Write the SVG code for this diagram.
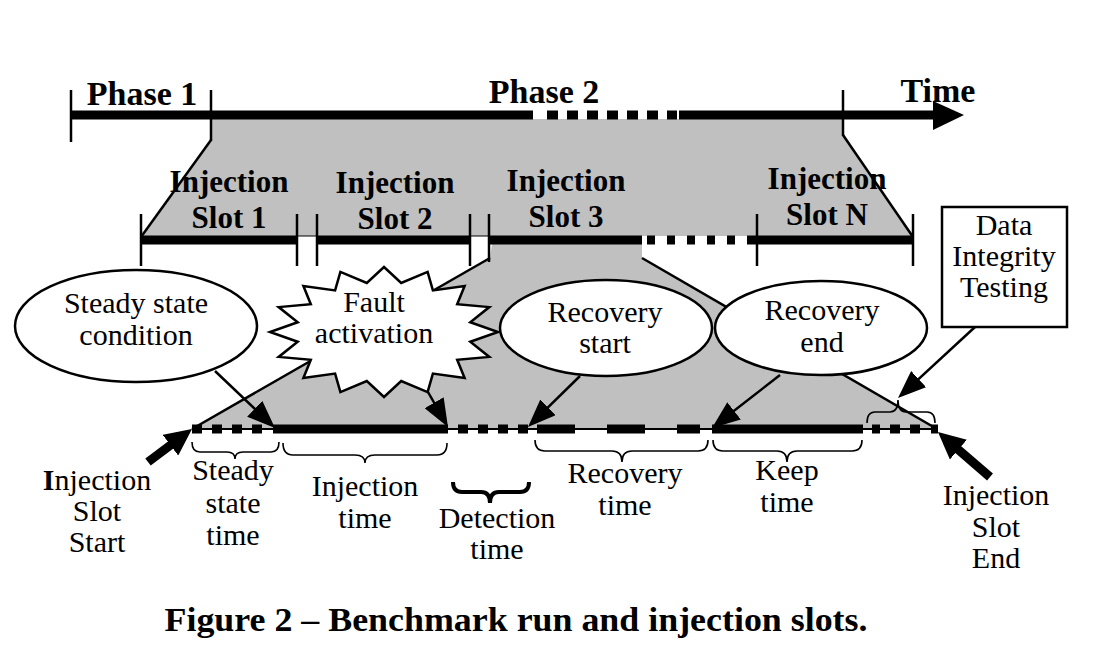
<svg xmlns="http://www.w3.org/2000/svg" width="1106" height="662" viewBox="0 0 1106 662">
<style>
.t{font-family:"Liberation Serif","Times New Roman",serif;font-size:30px;fill:#000;text-anchor:middle}
.b{font-weight:bold}
.ph{font-size:34px}
.ln{stroke:#000;stroke-width:2.5;fill:none}
.tk{stroke:#000;stroke-width:2.5}
.br{stroke:#000;stroke-width:1.6;fill:none}
.gray{fill:#c0c0c0}
.shape{fill:#fff;stroke:#000;stroke-width:2.5}
.bar{fill:#000}
</style>
<defs>
<marker id="ah" markerUnits="userSpaceOnUse" markerWidth="28" markerHeight="22" refX="20" refY="11" orient="auto">
<path d="M0,0 L28,11 L0,22 z" fill="#000"/>
</marker>
<marker id="ahb" markerUnits="userSpaceOnUse" markerWidth="27" markerHeight="26" refX="12" refY="13" orient="auto">
<path d="M0,0 L27,13 L0,26 z" fill="#000"/>
</marker>
</defs>
<rect width="1106" height="662" fill="#fff"/>

<g id="background">
<polygon class="gray" points="211,119 843,119 843,135 913,236 141,236 211,140"/>
<polygon class="gray" points="492,244 642,244 642,258 937,429 192,429 490,258"/>
<line class="ln" x1="211" y1="140" x2="141" y2="237"/>
<line class="ln" x1="843" y1="135" x2="913" y2="237"/>
<line class="ln" x1="490" y1="258" x2="192" y2="429"/>
<line class="ln" x1="642" y1="258" x2="937" y2="429"/>
</g>

<g id="phase-timeline">
<rect class="bar" x="71" y="110.5" width="462" height="9"/>
<rect class="bar" x="547" y="110.5" width="11" height="9"/>
<rect class="bar" x="567" y="110.5" width="11" height="9"/>
<rect class="bar" x="587" y="110.5" width="11" height="9"/>
<rect class="bar" x="607" y="110.5" width="11" height="9"/>
<rect class="bar" x="627" y="110.5" width="11" height="9"/>
<rect class="bar" x="647" y="110.5" width="11" height="9"/>
<rect class="bar" x="667" y="110.5" width="10" height="9"/>
<rect class="bar" x="679" y="110.5" width="256" height="9"/>
<polygon class="bar" points="933,101 964,115 933,130"/>
<line class="tk" x1="71" y1="90" x2="71" y2="142"/>
<line class="tk" x1="211" y1="90" x2="211" y2="141"/>
<line class="tk" x1="843" y1="90" x2="843" y2="136"/>
<text class="t b ph" x="142" y="105">Phase 1</text>
<text class="t b ph" x="544" y="103">Phase 2</text>
<text class="t b ph" x="938" y="102">Time</text>
</g>

<g id="slot-timeline">
<rect class="bar" x="141" y="235.5" width="156" height="9"/>
<rect class="bar" x="317" y="235.5" width="153" height="9"/>
<rect class="bar" x="489" y="235.5" width="153" height="9"/>
<rect class="bar" x="647" y="235.5" width="8" height="9"/>
<rect class="bar" x="667" y="235.5" width="8" height="9"/>
<rect class="bar" x="687" y="235.5" width="8" height="9"/>
<rect class="bar" x="707" y="235.5" width="8" height="9"/>
<rect class="bar" x="727" y="235.5" width="8" height="9"/>
<rect class="bar" x="747" y="235.5" width="166" height="9"/>
<line x1="297" y1="236" x2="317" y2="236" stroke="#000" stroke-width="1"/>
<line x1="470" y1="236" x2="489" y2="236" stroke="#000" stroke-width="1"/>
<line class="tk" x1="141" y1="214" x2="141" y2="266"/>
<line class="tk" x1="297" y1="214" x2="297" y2="266"/>
<line class="tk" x1="317" y1="214" x2="317" y2="266"/>
<line class="tk" x1="470" y1="214" x2="470" y2="266"/>
<line class="tk" x1="489" y1="214" x2="489" y2="262"/>
<line class="tk" x1="757" y1="214" x2="757" y2="266"/>
<line class="tk" x1="913" y1="214" x2="913" y2="266"/>
</g>

<g id="slot1"><text class="t b" x="229" y="192" style="font-size:31px">Injection</text><text class="t b" x="229" y="228" style="font-size:31px">Slot 1</text></g>
<g id="slot2"><text class="t b" x="395" y="193" style="font-size:31px">Injection</text><text class="t b" x="395" y="229" style="font-size:31px">Slot 2</text></g>
<g id="slot3"><text class="t b" x="566" y="191" style="font-size:31px">Injection</text><text class="t b" x="566" y="227" style="font-size:31px">Slot 3</text></g>
<g id="slotN"><text class="t b" x="827" y="189" style="font-size:31px">Injection</text><text class="t b" x="827" y="225" style="font-size:31px">Slot N</text></g>

<g id="bottom-timeline">
<rect x="192" y="428" width="746" height="2" fill="#000"/>
<rect class="bar" x="192" y="424.5" width="10" height="9"/>
<rect class="bar" x="212" y="424.5" width="10" height="9"/>
<rect class="bar" x="232" y="424.5" width="10" height="9"/>
<rect class="bar" x="252" y="424.5" width="10" height="9"/>
<rect class="bar" x="273" y="424.5" width="175" height="9"/>
<rect class="bar" x="458" y="424.5" width="10" height="9"/>
<rect class="bar" x="478" y="424.5" width="10" height="9"/>
<rect class="bar" x="498" y="424.5" width="10" height="9"/>
<rect class="bar" x="518" y="424.5" width="10" height="9"/>
<rect class="bar" x="537" y="424.5" width="38" height="9"/>
<rect class="bar" x="607" y="424.5" width="38" height="9"/>
<rect class="bar" x="677" y="424.5" width="23" height="9"/>
<rect class="bar" x="712" y="424.5" width="151" height="9"/>
<rect class="bar" x="872" y="424.5" width="8" height="9"/>
<rect class="bar" x="890" y="424.5" width="10" height="9"/>
<rect class="bar" x="910" y="424.5" width="10" height="9"/>
<rect class="bar" x="931" y="424.5" width="7" height="9"/>
</g>

<g id="braces">
<path class="br" d="M192,442 Q192,452 200,452 L227,452 Q235,452 235,459 Q235,452 243,452 L271,452 Q279,452 279,442"/>
<path class="br" d="M283,443 Q283,455 293,455 L355,455 Q365,455 365,463 Q365,455 375,455 L437,455 Q447,455 447,443"/>
<path class="br" d="M535,440 Q535,451 545,451 L612,451 Q622,451 622,462 Q622,451 632,451 L698,451 Q708,451 708,440"/>
<path class="br" d="M713,440 Q713,451 723,451 L777,451 Q787,451 787,462 Q787,451 797,451 L852,451 Q862,451 862,440"/>
<path d="M453,482 Q453,492 462,492 L481,492 Q490,492 490,503 Q490,492 499,492 L520,492 Q529,492 529,482" stroke="#000" stroke-width="4" fill="none"/>
<path class="br" d="M867,423 Q867,412 875,412 L890,412 Q898,412 898,400 Q898,412 906,412 L927,412 Q935,412 935,423"/>
</g>

<g id="connectors">
<line class="ln" x1="215" y1="371" x2="269.2" y2="422.5" marker-end="url(#ah)"/>
<line class="ln" x1="428" y1="392" x2="444" y2="420.1" marker-end="url(#ah)"/>
<line class="ln" x1="580" y1="376" x2="533.7" y2="421.4" marker-end="url(#ah)"/>
<line class="ln" x1="780" y1="375" x2="718.3" y2="423.1" marker-end="url(#ah)"/>
<line class="ln" x1="975" y1="327" x2="903.9" y2="392.6" marker-end="url(#ah)"/>
<line x1="148" y1="462" x2="180" y2="438" stroke="#000" stroke-width="9" marker-end="url(#ahb)"/>
<line x1="990" y1="477" x2="949.3" y2="441.8" stroke="#000" stroke-width="9" marker-end="url(#ahb)"/>
</g>

<g id="steady-state-condition">
<ellipse class="shape" cx="136" cy="326" rx="121" ry="56"/>
<text class="t" x="136" y="313">Steady state</text>
<text class="t" x="136" y="345">condition</text>
</g>

<g id="fault-activation">
<polygon class="shape" stroke-width="1.5" points="384,267 401.2,283 427.6,271.9 432.9,290.4 464.6,286 457.2,304.2 489.3,307.1 470.3,322.2 498,332 470.3,341.8 489.3,356.9 457.2,359.8 464.6,378 432.9,373.6 427.6,392.1 401.2,381 384,397 366.8,381 340.4,392.1 335.1,373.6 303.4,378 310.8,359.8 278.7,356.9 297.7,341.8 270,332 297.7,322.2 278.7,307.1 310.8,304.2 303.4,286 335.1,290.4 340.4,271.9 366.8,283"/>
<text class="t" x="374" y="312">Fault</text>
<text class="t" x="374" y="343">activation</text>
</g>

<g id="recovery-start">
<ellipse class="shape" cx="606" cy="328" rx="106" ry="48"/>
<text class="t" x="605" y="322">Recovery</text>
<text class="t" x="605" y="353">start</text>
</g>

<g id="recovery-end">
<ellipse class="shape" cx="821" cy="328" rx="106" ry="47"/>
<text class="t" x="822" y="320">Recovery</text>
<text class="t" x="822" y="352">end</text>
</g>

<g id="data-integrity-testing">
<rect class="shape" x="942" y="207" width="125" height="120"/>
<text class="t" x="1004" y="235">Data</text>
<text class="t" x="1004" y="266">Integrity</text>
<text class="t" x="1004" y="297">Testing</text>
</g>

<g id="labels">
<text class="t" x="97" y="490"><tspan class="b">I</tspan>njection</text>
<text class="t" x="97" y="521">Slot</text>
<text class="t" x="97" y="552">Start</text>
<text class="t" x="233" y="480">Steady</text>
<text class="t" x="233" y="513">state</text>
<text class="t" x="233" y="545">time</text>
<text class="t" x="365" y="496">Injection</text>
<text class="t" x="365" y="528">time</text>
<text class="t" x="497" y="528">Detection</text>
<text class="t" x="497" y="559">time</text>
<text class="t" x="625" y="483">Recovery</text>
<text class="t" x="625" y="515">time</text>
<text class="t" x="787" y="480">Keep</text>
<text class="t" x="787" y="512">time</text>
<text class="t" x="996" y="505">Injection</text>
<text class="t" x="996" y="537">Slot</text>
<text class="t" x="996" y="568">End</text>
</g>

<text class="t b" x="516" y="631" style="font-size:34px" textLength="703" lengthAdjust="spacingAndGlyphs">Figure 2 – Benchmark run and injection slots.</text>
</svg>
